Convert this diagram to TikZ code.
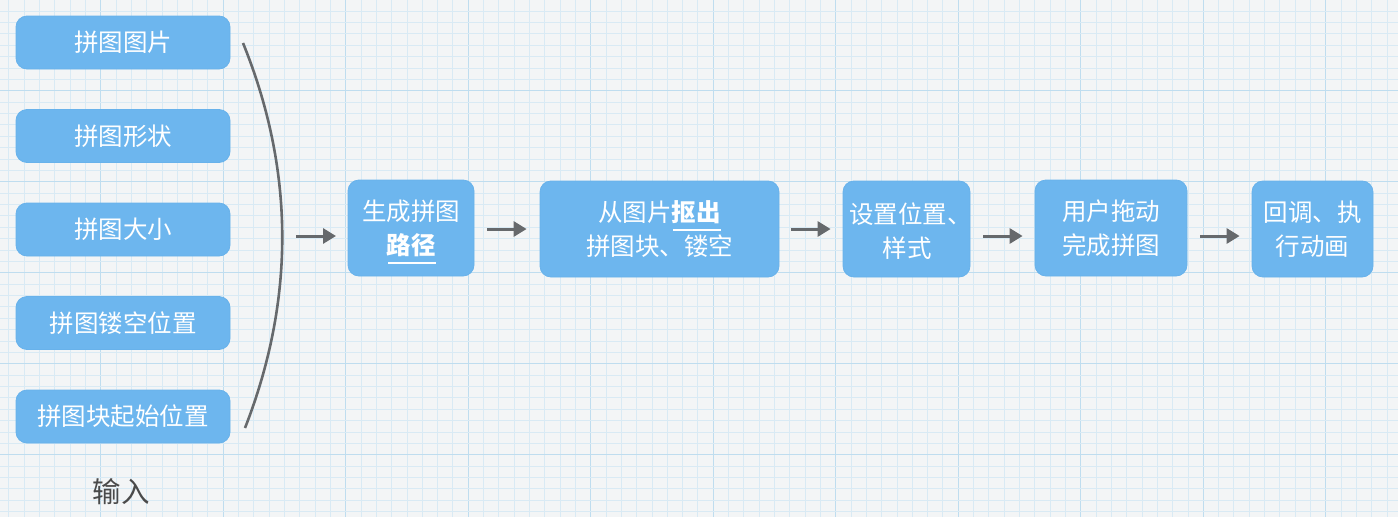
\documentclass[tikz,border=0pt]{standalone}
\usepackage{fontspec}
\setmainfont{Noto Sans CJK SC}
\usetikzlibrary{arrows.meta}
\definecolor{bgc}{HTML}{F3F5F6}
\definecolor{gminor}{HTML}{D9EAF4}
\definecolor{gmajor}{HTML}{BFDDEF}
\definecolor{boxc}{HTML}{6DB6EE}
\definecolor{boxe}{HTML}{68B2EB}
\definecolor{arr}{HTML}{66696C}
\definecolor{lbl}{HTML}{4A4A4A}
\tikzset{
  x=1pt, y=-1pt,
  boxfont/.style={font=\fontsize{24.5}{34}\selectfont},
  inbox/.style={draw=boxe, line width=0.8pt, fill=boxc, rounded corners=11pt, inner sep=0pt, text=white, boxfont, align=center},
  flow/.style={draw=arr, line width=3pt, -{Triangle[length=13pt,width=15pt]}},
  brace/.style={draw=arr, line width=2.6pt},
  uline/.style={draw=white, line width=2pt}
}
\begin{document}
\begin{tikzpicture}
\useasboundingbox (0,0) rectangle (1398,517);
\fill[bgc] (0,0) rectangle (1398,517);
% grid
\foreach \i in {-7,...,84} {
  \pgfmathsetmacro\xx{100.7+15.3125*\i}
  \pgfmathtruncatemacro\mm{mod(\i+80,8)}
  \ifnum\mm=0
    \draw[gmajor, line width=1.3pt] (\xx,0) -- (\xx,517);
  \else
    \draw[gminor, line width=0.8pt] (\xx,0) -- (\xx,517);
  \fi
}
\foreach \j in {0,...,46} {
  \pgfmathsetmacro\yy{-0.3+11.375*\j}
  \pgfmathtruncatemacro\mm{mod(\j,8)}
  \ifnum\mm=0
    \draw[gmajor, line width=1.3pt] (0,\yy) -- (1398,\yy);
  \else
    \draw[gminor, line width=0.8pt] (0,\yy) -- (1398,\yy);
  \fi
}
% left input boxes
\node[inbox, minimum width=214pt, minimum height=53pt] (i1) at (123,42.5) {拼图图片};
\node[inbox, minimum width=214pt, minimum height=53pt] (i2) at (123,136) {拼图形状};
\node[inbox, minimum width=214pt, minimum height=53pt] (i3) at (123,229.5) {拼图大小};
\node[inbox, minimum width=214pt, minimum height=53pt] (i4) at (123,323) {拼图镂空位置};
\node[inbox, minimum width=214pt, minimum height=53pt] (i5) at (123,416.5) {拼图块起始位置};
\node[text=lbl, font=\fontsize{28.5}{32}\selectfont, inner sep=0pt] (inp) at (121,492) {输入};
% brace curve
\coordinate (bt) at (243,43);
\coordinate (bb) at (245,428);
\draw[brace] (bt) .. controls (295,171) and (295,300) .. (bb);
% flow boxes
\node[inbox, minimum width=126pt, minimum height=96pt] (b1) at (411,228) {生成拼图\\\textbf{路径}};
\node[inbox, minimum width=239pt, minimum height=96pt] (b2) at (659.5,229) {从图片\textbf{抠出}\\拼图块、镂空};
\node[inbox, minimum width=127pt, minimum height=96pt] (b3) at (906.5,229) {};
\node[text=white, boxfont, anchor=west, inner sep=0pt] (b3t) at (849,214) {设置位置、};
\node[text=white, boxfont, inner sep=0pt] (b3u) at (907,248) {样式};
\node[inbox, minimum width=152pt, minimum height=96pt] (b4) at (1111,228) {用户拖动\\完成拼图};
\node[inbox, minimum width=121pt, minimum height=96pt] (b5) at (1312.5,229) {回调、执\\行动画};
% underlines
\coordinate (u1a) at (388,263); \coordinate (u1b) at (436,263);
\draw[uline] (u1a) -- (u1b);
\coordinate (u2a) at (673,229.5); \coordinate (u2b) at (721,229.5);
\draw[uline] (u2a) -- (u2b);
% arrows
\coordinate (a0s) at (296,236); \coordinate (a0e) at (336,236);
\draw[flow] (a0s) -- (a0e);
\draw[flow] ([xshift=13pt]b1.east |- 0,229) -- ([xshift=-13pt]b2.west |- 0,229);
\draw[flow] ([xshift=12pt]b2.east |- 0,229) -- ([xshift=-12pt]b3.west |- 0,229);
\draw[flow] ([xshift=13pt]b3.east |- 0,236) -- ([xshift=-12pt]b4.west |- 0,236);
\draw[flow] ([xshift=13pt]b4.east |- 0,236) -- ([xshift=-12pt]b5.west |- 0,236);
\end{tikzpicture}
\end{document}
